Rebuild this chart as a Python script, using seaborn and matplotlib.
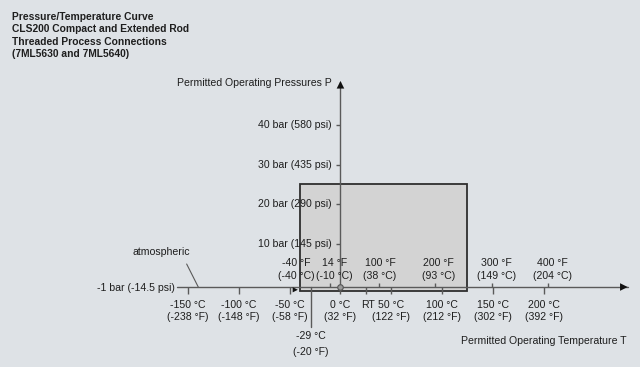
import matplotlib.pyplot as plt
import seaborn as sns
from matplotlib.patches import Rectangle

plt.switch_backend('Agg')

# chart data
title_lines = ["Pressure/Temperature Curve",
               "CLS200 Compact and Extended Rod",
               "Threaded Process Connections",
               "(7ML5630 and 7ML5640)"]

pressure_ticks = [10, 20, 30, 40]
pressure_labels = ["10 bar (145 psi)", "20 bar (290 psi)",
                   "30 bar (435 psi)", "40 bar (580 psi)"]

celsius_ticks = [-150, -100, -50, 0, 50, 100, 150, 200]
celsius_labels = ["-150 °C", "-100 °C", "-50 °C", "0 °C",
                  "50 °C", "100 °C", "150 °C", "200 °C"]
celsius_labels_f = ["(-238 °F)", "(-148 °F)", "(-58 °F)", "(32 °F)",
                    "(122 °F)", "(212 °F)", "(302 °F)", "(392 °F)"]

fahrenheit_ticks_c = [-40, -10, 38, 93, 149, 204]
fahrenheit_labels = ["-40 °F", "14 °F", "100 °F", "200 °F", "300 °F", "400 °F"]
fahrenheit_labels_c = ["(-40 °C)", "(-10 °C)", "(38 °C)", "(93 °C)",
                       "(149 °C)", "(204 °C)"]

rt_temp = 25
min_temp = -29
atm_pressure = -1

# permitted range (box)
box_t_min, box_t_max = -40, 125
box_p_min, box_p_max = -2, 25

bg = '#dee2e6'
txt = '#1e1e1e'
line_c = '#5a5a5a'
fs = 7.6

# horizontal nudges (pixels) of the upper labels
f_label_shift = [-3.5, 4, 1, 3.5, 5, 5]

sns.set_theme(style='white', rc={'figure.facecolor': bg, 'axes.facecolor': bg})
plt.rcParams['font.family'] = ['Liberation Sans', 'DejaVu Sans']

fig = plt.figure(figsize=(6.4, 3.67), dpi=100)
ax = fig.add_axes([0, 0, 1, 1])
ax.set_xlim(-335.2, 294.9)
ax.set_ylim(-21.25, 71.66)
ax.set_axis_off()

# permitted operating box
ax.add_patch(Rectangle((box_t_min, box_p_min), box_t_max - box_t_min,
                       box_p_max - box_p_min, facecolor='#d3d3d3',
                       edgecolor='#2e2e2e', linewidth=1.3, zorder=1))

# axes lines
x_start, x_end = -161, 283
y_top = 51
ax.plot([x_start, x_end], [atm_pressure, atm_pressure], color=line_c, lw=1.0, zorder=2)
ax.plot([0, 0], [box_p_min, y_top], color=line_c, lw=1.0, zorder=2)
sns.scatterplot(x=[x_end - 4], y=[atm_pressure], marker='>', s=30, color='#111111',
                edgecolor='none', ax=ax, zorder=3)
sns.scatterplot(x=[0], y=[y_top - 0.8], marker='^', s=30, color='#111111',
                edgecolor='none', ax=ax, zorder=3)

# pressure ticks and labels
ax.hlines(pressure_ticks, -4.5, 0, color=line_c, lw=1.0)
for p, lab in zip(pressure_ticks, pressure_labels):
    ax.annotate(lab, (0, p), xytext=(-9, 0), textcoords='offset pixels',
                ha='right', va='center', fontsize=fs, color=txt)
ax.annotate("Permitted Operating Pressures P", (0, y_top), xytext=(-9, -1),
            textcoords='offset pixels', ha='right', va='center', fontsize=fs, color=txt)

# celsius ticks below the axis
ax.vlines(celsius_ticks + [rt_temp], atm_pressure - 1.8, atm_pressure, color=line_c, lw=1.0)
for t, l1, l2 in zip(celsius_ticks, celsius_labels, celsius_labels_f):
    ax.annotate(l1, (t, atm_pressure), xytext=(0, -18), textcoords='offset pixels',
                ha='center', va='center', fontsize=fs, color=txt)
    ax.annotate(l2, (t, atm_pressure), xytext=(0, -30), textcoords='offset pixels',
                ha='center', va='center', fontsize=fs, color=txt)
ax.annotate("RT", (rt_temp + 2, atm_pressure), xytext=(0, -18), textcoords='offset pixels',
            ha='center', va='center', fontsize=fs, color=txt)

# fahrenheit ticks above the axis
ax.vlines(fahrenheit_ticks_c[1:], atm_pressure, atm_pressure + 1.0, color=line_c, lw=1.0)
for t, l1, l2, dx in zip(fahrenheit_ticks_c, fahrenheit_labels, fahrenheit_labels_c,
                         f_label_shift):
    ax.annotate(l1, (t, atm_pressure), xytext=(dx, 24), textcoords='offset pixels',
                ha='center', va='center', fontsize=fs, color=txt)
    ax.annotate(l2, (t, atm_pressure), xytext=(dx, 11.5), textcoords='offset pixels',
                ha='center', va='center', fontsize=fs, color=txt)

# minimum temperature marker
ax.plot([min_temp, min_temp], [atm_pressure, -11.1], color=line_c, lw=1.0)
ax.annotate("-29 °C", (min_temp, -11.1), xytext=(0, -9), textcoords='offset pixels',
            ha='center', va='center', fontsize=fs, color=txt)
ax.annotate("(-20 °F)", (min_temp, -11.1), xytext=(0, -25), textcoords='offset pixels',
            ha='center', va='center', fontsize=fs, color=txt)

# arrow at box corner and dot at 0 °C
sns.scatterplot(x=[box_t_min - 4.5], y=[box_p_min + 0.3], marker='>', s=14,
                color='#111111', edgecolor='none', ax=ax, zorder=4)
sns.scatterplot(x=[0], y=[atm_pressure], s=16, color='#9a9a9a', edgecolor='#555555',
                linewidth=0.8, ax=ax, zorder=4)

# atmospheric / -1 bar labels
ax.annotate("atmospheric", (-140, atm_pressure), xytext=(-37, 35), textcoords='offset pixels',
            ha='center', va='center', fontsize=fs, color=txt,
            arrowprops=dict(arrowstyle='-', color=line_c, lw=0.8,
                            relpos=(0.88, 0), shrinkA=3, shrinkB=0))
ax.annotate("-1 bar (-14.5 psi)", (x_start, atm_pressure), xytext=(-2, -1),
            textcoords='offset pixels', ha='right', va='center', fontsize=fs, color=txt)

fig.text(627 / 640, 1 - 341 / 367, "Permitted Operating Temperature T",
         ha='right', va='center', fontsize=fs, color=txt)

for i, line in enumerate(title_lines):
    fig.text(12 / 640, 1 - (16.7 + 12.45 * i) / 367, line, ha='left', va='center',
             fontsize=7.4, fontweight='bold', color=txt)

fig.savefig('out.png', dpi=100, facecolor=bg)
